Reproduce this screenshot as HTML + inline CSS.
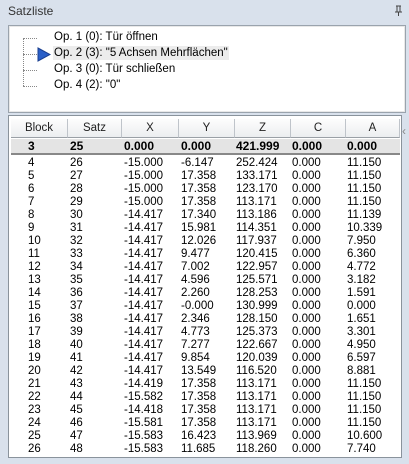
<!DOCTYPE html>
<html><head><meta charset="utf-8"><style>
body{margin:0;width:409px;height:464px;overflow:hidden;background:#d9e1ec;font-family:"Liberation Sans",sans-serif;font-size:11.5px;color:#000;position:relative}
.a{position:absolute;white-space:nowrap}
#title{left:8px;top:4px;font-size:12px;color:#333}
#tree{left:8px;top:25px;width:396px;height:86px;background:#fff;border:1px solid #9aa3ad;box-shadow:inset 0 0 0 1px #e8e8e8}
#tbl{left:8px;top:115px;width:392px;height:341px;background:#fff;border:1px solid #8a939c}
.hd{top:3px;height:18px;line-height:18px;text-align:center;background:linear-gradient(#fdfdfd,#eceef0);border-right:1px solid #bfc4ca;border-bottom:1px solid #9aa0a6;color:#222}
.cell{height:13px;line-height:13px}
</style></head><body>
<div class="a" id="title">Satzliste</div>
<svg class="a" style="left:394px;top:5px" width="9" height="11"><path d="M2 1h5M3 1v6M6 1v6M1 7h7M4.5 7v4" stroke="#444" fill="none"/></svg>
<div class="a" id="tree">
  <div class="a" style="left:14px;top:12px;width:0;height:48px;border-left:1px dotted #888"></div>
  <div class="a" style="left:14px;top:12px;width:14px;border-top:1px dotted #888"></div>
  <div class="a" style="left:14px;top:28px;width:14px;border-top:1px dotted #888"></div>
  <div class="a" style="left:14px;top:44px;width:14px;border-top:1px dotted #888"></div>
  <div class="a" style="left:14px;top:60px;width:14px;border-top:1px dotted #888"></div>
  <svg class="a" style="left:28px;top:21px" width="14" height="15"><polygon points="1,1 13,7.5 1,14" fill="#2a5fc8" stroke="#1a3f90"/></svg>
  <div class="a" style="left:45px;top:5px">Op. 1 (0): Tür öffnen</div>
  <div class="a" style="left:44px;top:20px;background:#ececec;padding:1px 1px">Op. 2 (3): "5 Achsen Mehrflächen"</div>
  <div class="a" style="left:45px;top:37px">Op. 3 (0): Tür schließen</div>
  <div class="a" style="left:45px;top:53px">Op. 4 (2): "0"</div>
</div>
<div class="a" id="tbl"></div>
<div class="a" style="left:402px;top:124px;color:#888;font-size:12px">&lsaquo;</div>
<script>
const headers=["Block","Satz","X","Y","Z","C","A"];
const rows=[
["3","25","0.000","0.000","421.999","0.000","0.000"],
["4","26","-15.000","-6.147","252.424","0.000","11.150"],
["5","27","-15.000","17.358","133.171","0.000","11.150"],
["6","28","-15.000","17.358","123.170","0.000","11.150"],
["7","29","-15.000","17.358","113.171","0.000","11.150"],
["8","30","-14.417","17.340","113.186","0.000","11.139"],
["9","31","-14.417","15.981","114.351","0.000","10.339"],
["10","32","-14.417","12.026","117.937","0.000","7.950"],
["11","33","-14.417","9.477","120.415","0.000","6.360"],
["12","34","-14.417","7.002","122.957","0.000","4.772"],
["13","35","-14.417","4.596","125.571","0.000","3.182"],
["14","36","-14.417","2.260","128.253","0.000","1.591"],
["15","37","-14.417","-0.000","130.999","0.000","0.000"],
["16","38","-14.417","2.346","128.150","0.000","1.651"],
["17","39","-14.417","4.773","125.373","0.000","3.301"],
["18","40","-14.417","7.277","122.667","0.000","4.950"],
["19","41","-14.417","9.854","120.039","0.000","6.597"],
["20","42","-14.417","13.549","116.520","0.000","8.881"],
["21","43","-14.419","17.358","113.171","0.000","11.150"],
["22","44","-15.582","17.358","113.171","0.000","11.150"],
["23","45","-14.418","17.358","113.171","0.000","11.150"],
["24","46","-15.581","17.358","113.171","0.000","11.150"],
["25","47","-15.583","16.423","113.969","0.000","10.600"],
["26","48","-15.583","11.685","118.260","0.000","7.740"]];
const tbl=document.getElementById('tbl');
const colEdges=[2,59,113,170,226,282,337,391];
const textX=[19,61,115,172,227,283,338];
headers.forEach((h,i)=>{
 const d=document.createElement('div');
 d.className='a hd';
 
 
 d.style.left=colEdges[i]+'px';d.style.width=(colEdges[i+1]-colEdges[i]-1)+'px';
 d.textContent=h;tbl.appendChild(d);
});
const bg=document.createElement('div');
bg.className='a';


bg.style.cssText='left:2px;top:23px;width:389px;height:14px;background:#e4e4e4;border-bottom:2px solid #888';
tbl.appendChild(bg);
rows.forEach((r,ri)=>{
 const top=ri===0?23:41+(ri-1)*13;
 r.forEach((v,ci)=>{
  const d=document.createElement('div');
  d.className='a cell';
  
  
  d.style.left=textX[ci]+'px';d.style.top=top+'px';
  if(ri===0){d.style.fontWeight='bold';d.style.fontSize='12px';d.style.lineHeight='14px';}
  d.textContent=v;tbl.appendChild(d);
 });
});
</script>
</body></html>
